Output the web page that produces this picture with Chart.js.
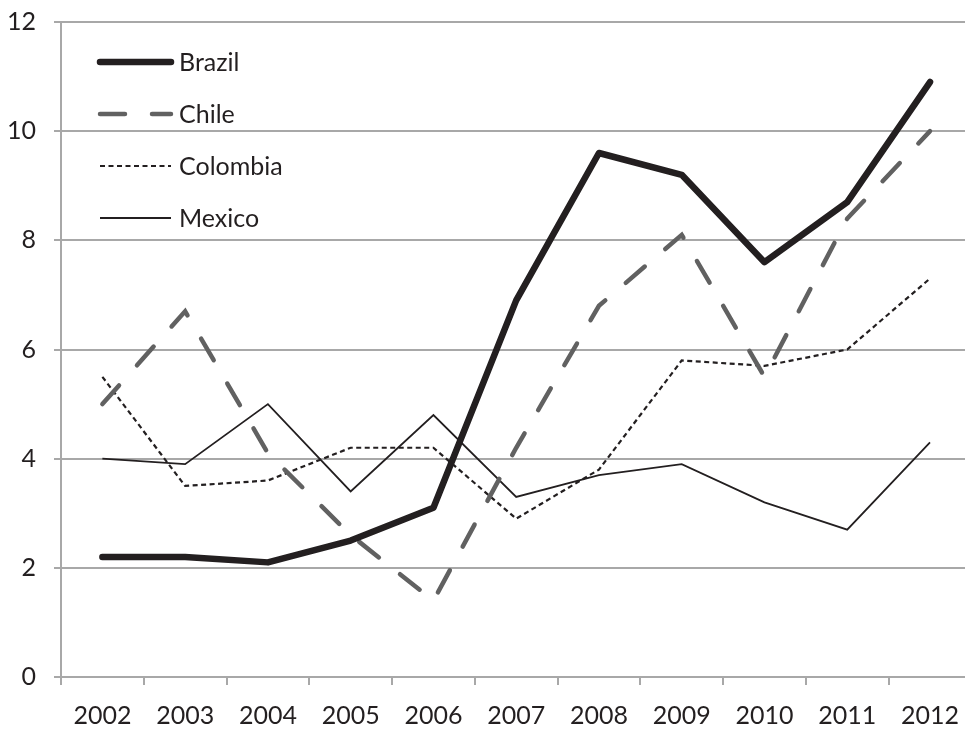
<!DOCTYPE html>
<html>
<head>
<meta charset="utf-8">
<script src="https://cdn.jsdelivr.net/npm/chart.js@4"></script>
<style>
  html, body { margin: 0; padding: 0; background: #fff; overflow: hidden; }
  #wrap { width: 975px; height: 729px; }
</style>
</head>
<body>
<div id="wrap"><canvas id="chart" width="975" height="729"></canvas></div>
<script>
const years = ["2002", "2003", "2004", "2005", "2006", "2007", "2008", "2009", "2010", "2011", "2012"];
const brazil = [2.2, 2.2, 2.1, 2.5, 3.1, 6.9, 9.6, 9.2, 7.6, 8.7, 10.9];
const chile = [5.0, 6.7, 4.1, 2.6, 1.4, 4.2, 6.8, 8.1, 5.5, 8.4, 10.0];
const colombia = [5.5, 3.5, 3.6, 4.2, 4.2, 2.9, 3.8, 5.8, 5.7, 6.0, 7.3];
const mexico = [4.0, 3.9, 5.0, 3.4, 4.8, 3.3, 3.7, 3.9, 3.2, 2.7, 4.3];

const ink = "#231f20";
const gridGray = "#a8a8a8";
const fontFamily = "Lato, 'Open Sans', sans-serif";

// legend drawn inside the plot, top-left
const insideLegend = {
  id: "insideLegend",
  afterDatasetsDraw(chart) {
    const ctx = chart.ctx;
    const area = chart.chartArea;
    chart.data.datasets.forEach((ds, i) => {
      const y = area.top + 40 + i * 52;
      const x0 = area.left + 39;
      const x1 = area.left + 110;
      ctx.save();
      ctx.strokeStyle = ds.borderColor;
      ctx.lineWidth = ds.borderWidth;
      ctx.lineCap = ds.borderCapStyle || "butt";
      ctx.setLineDash(ds.borderDash || []);
      ctx.beginPath();
      ctx.moveTo(x0, y);
      ctx.lineTo(x1, y);
      ctx.stroke();
      ctx.setLineDash([]);
      ctx.fillStyle = ink;
      ctx.font = "25px " + fontFamily;
      ctx.textBaseline = "middle";
      ctx.fillText(ds.label, area.left + 118, y + 1);
      ctx.restore();
    });
  }
};

new Chart(document.getElementById("chart"), {
  type: "line",
  data: {
    labels: years,
    datasets: [
      {
        label: "Brazil",
        data: brazil,
        borderColor: ink,
        borderWidth: 6.5,
        borderCapStyle: "round",
        borderJoinStyle: "round",
      },
      {
        label: "Chile",
        data: chile,
        borderColor: "#616161",
        borderWidth: 4.5,
        borderDash: [25, 27],
        borderCapStyle: "round",
      },
      {
        label: "Colombia",
        data: colombia,
        borderColor: ink,
        borderWidth: 2.2,
        borderDash: [5, 3.5],
      },
      {
        label: "Mexico",
        data: mexico,
        borderColor: ink,
        borderWidth: 1.8,
      },
    ],
  },
  options: {
    responsive: false,
    animation: false,
    tension: 0,
    elements: { point: { radius: 0 } },
    layout: { padding: { top: 22, right: 0, left: 0, bottom: 0 } },
    plugins: {
      legend: { display: false },
      tooltip: { enabled: false },
    },
    scales: {
      x: {
        offset: true,
        grid: {
          offset: true,
          drawOnChartArea: false,
          drawTicks: true,
          tickLength: 8,
          color: gridGray,
          lineWidth: 2,
        },
        border: { color: gridGray, width: 2 },
        ticks: {
          color: ink,
          font: { family: fontFamily, size: 25 },
          padding: 16,
          maxRotation: 0,
          autoSkip: false,
        },
        afterFit(scale) { scale.height = 52; },
      },
      y: {
        min: 0,
        max: 12,
        grid: {
          color: gridGray,
          lineWidth: 2,
          tickLength: 7,
        },
        border: { color: gridGray, width: 2 },
        ticks: {
          stepSize: 2,
          color: ink,
          font: { family: fontFamily, size: 25 },
          padding: 18,
        },
        afterFit(scale) {
          scale.width = 61;
          scale.paddingTop = 0;
          scale.paddingBottom = 0;
        },
      },
    },
  },
  plugins: [insideLegend],
});
</script>
</body>
</html>
